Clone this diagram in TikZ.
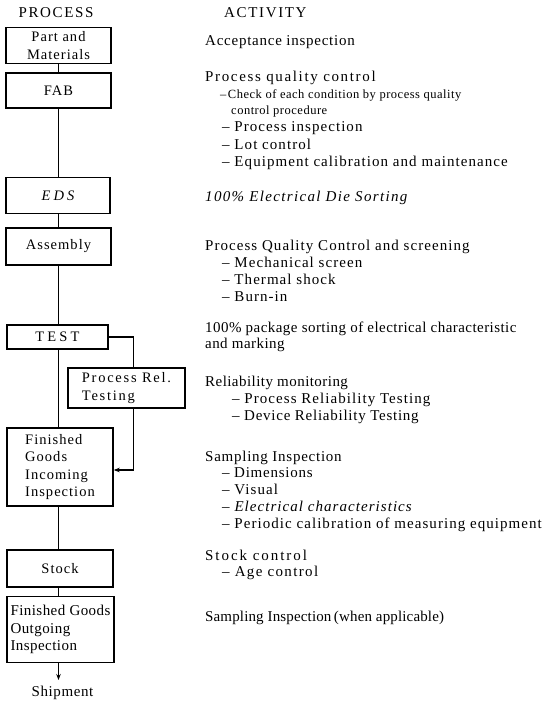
\documentclass[tikz,border=0pt]{standalone}
\usepackage{fontspec}
\setmainfont{Liberation Serif}
\newfontfamily\lsA{Liberation Serif}[LetterSpace=1]
\newfontfamily\lsC{Liberation Serif}[LetterSpace=3]
\newfontfamily\lsD{Liberation Serif}[LetterSpace=4]
\newfontfamily\lsE{Liberation Serif}[LetterSpace=5]
\newfontfamily\lsG{Liberation Serif}[LetterSpace=7]
\newfontfamily\lsI{Liberation Serif}[LetterSpace=9]
\newfontfamily\lsK{Liberation Serif}[LetterSpace=11]
\newfontfamily\lsL{Liberation Serif}[LetterSpace=12]
\newfontfamily\lsM{Liberation Serif}[LetterSpace=13]
\newfontfamily\lsW{Liberation Serif}[LetterSpace=22]
\usetikzlibrary{arrows.meta}
\tikzset{
  hdr/.style={inner sep=0pt, font=\lsK\fontsize{15}{18}\selectfont},
  box/.style={draw, line width=1.4pt, rectangle, inner sep=0pt, align=center,
    font=#1\fontsize{14.5}{17.6}\selectfont},
  box/.default=\lsG,
  boxb/.style={draw, line width=1.4pt, rectangle, inner sep=0pt, align=left,
    font=\lsC\fontsize{15}{17.5}\selectfont},
  act/.style={anchor=base west, inner sep=0pt, font=#1\fontsize{15}{17}\selectfont},
  act/.default=\lsG,
  sm/.style={anchor=base west, inner sep=0pt, font=\lsD\fontsize{12.5}{14}\selectfont},
  conn/.style={line width=1.3pt},
  arr/.style={-{Stealth[length=6pt,width=4.5pt]}},
}
\begin{document}
\begin{tikzpicture}[x=1pt,y=-1pt]
\useasboundingbox (0,0) rectangle (541,704);
% headers
\node[hdr] (hp) at (56,13) {PROCESS};
\node[hdr, anchor=west] (ha) at (224,13) {ACTIVITY};
% process boxes
\node[box, minimum width=105pt, minimum height=36pt] (pm) at (58.5,45.5) {Part and\\Materials};
\node[box, minimum width=105pt, minimum height=35pt] (fab) at (58.5,90.5) {FAB};
\node[box=\lsW, minimum width=104pt, minimum height=36pt] (eds) at (58,195.5) {\itshape EDS};
\node[box, minimum width=105pt, minimum height=37pt] (asm) at (58.5,246.5) {Assembly};
\node[box=\lsW, minimum width=101pt, minimum height=24pt] (test) at (57.5,337) {TEST};
\node[box=\lsL, align=left, minimum width=117pt, minimum height=40pt] (prt) at (126.5,388) {Process Rel.\\Testing};
\node[box, align=left, minimum width=106pt, minimum height=78pt] (fgi) at (60,467) {Finished\\Goods\\Incoming\\Inspection};
\node[box, minimum width=106pt, minimum height=37pt] (stk) at (60,568.5) {Stock};
\node[boxb, minimum width=107pt, minimum height=66pt] (fgo) at (60.5,629.5) {Finished Goods\\Outgoing\\Inspection};
\node[inner sep=0pt, font=\lsD\fontsize{15}{17}\selectfont] (ship) at (62.5,693) {Shipment};
% connectors
\coordinate (tx) at (58.5,0);
\coordinate (bx) at (133.5,0);
\coordinate (ay) at (0,470);
\coordinate (se) at (58.5,680);
\draw[conn] (pm.south -| tx) -- (fab.north -| tx);
\draw[conn] (fab.south -| tx) -- (eds.north -| tx);
\draw[conn] (eds.south -| tx) -- (asm.north -| tx);
\draw[conn] (asm.south -| tx) -- (test.north -| tx);
\draw[conn] (test.south -| tx) -- (fgi.north -| tx);
\draw[conn] (fgi.south -| tx) -- (stk.north -| tx);
\draw[conn] (stk.south -| tx) -- (fgo.north -| tx);
\draw[conn, arr] (fgo.south -| tx) -- (se);
\draw[conn] (test.east) -| (prt.north -| bx);
\draw[conn, arr] (prt.south -| bx) |- (fgi.east |- ay);
% activity text
\node[act=\lsE] (a1) at (205,45) {Acceptance inspection};
\node[act=\lsK] (a2) at (205,81.5) {Process quality control};
\node[sm] (a3) at (220,98) {–\hspace{1.5pt}Check of each condition by process quality};
\node[sm] (a4) at (231,114) {control procedure};
\node[act] (a5) at (222,131.5) {– Process inspection};
\node[act] (a6) at (222,149) {– Lot control};
\node[act] (a7) at (222,166.5) {– Equipment calibration and maintenance};
\node[act=\lsI] (b1) at (205,201.5) {\itshape 100\% Electrical Die Sorting};
\node[act] (c1) at (205,250.5) {Process Quality Control and screening};
\node[act] (c2) at (222,267.5) {– Mechanical screen};
\node[act] (c3) at (222,284.5) {– Thermal shock};
\node[act] (c4) at (222,301.5) {– Burn-in};
\node[act=\lsC] (d1) at (205,332) {100\% package sorting of electrical characteristic};
\node[act=\lsC] (d2) at (205,348.5) {and marking};
\node[act=\lsC] (e1) at (205,386.5) {Reliability monitoring};
\node[act] (e2) at (232,403.5) {– Process Reliability Testing};
\node[act=\lsE] (e3) at (232,420.5) {– Device Reliability Testing};
\node[act=\lsE] (f1) at (205,461.5) {Sampling Inspection};
\node[act=\lsE] (f2) at (222,477.5) {– Dimensions};
\node[act] (f3) at (222,494.5) {– Visual};
\node[act] (f4) at (222,511.5) {– \textit{Electrical characteristics}};
\node[act] (f5) at (222,528.5) {– Periodic calibration of measuring equipment};
\node[act=\lsM] (g1) at (205,560.5) {Stock control};
\node[act=\lsI] (g2) at (222,576.5) {– Age control};
\node[act=\lsA] (h1) at (205,621.5) {Sampling Inspection\,(when applicable)};
\end{tikzpicture}
\end{document}
